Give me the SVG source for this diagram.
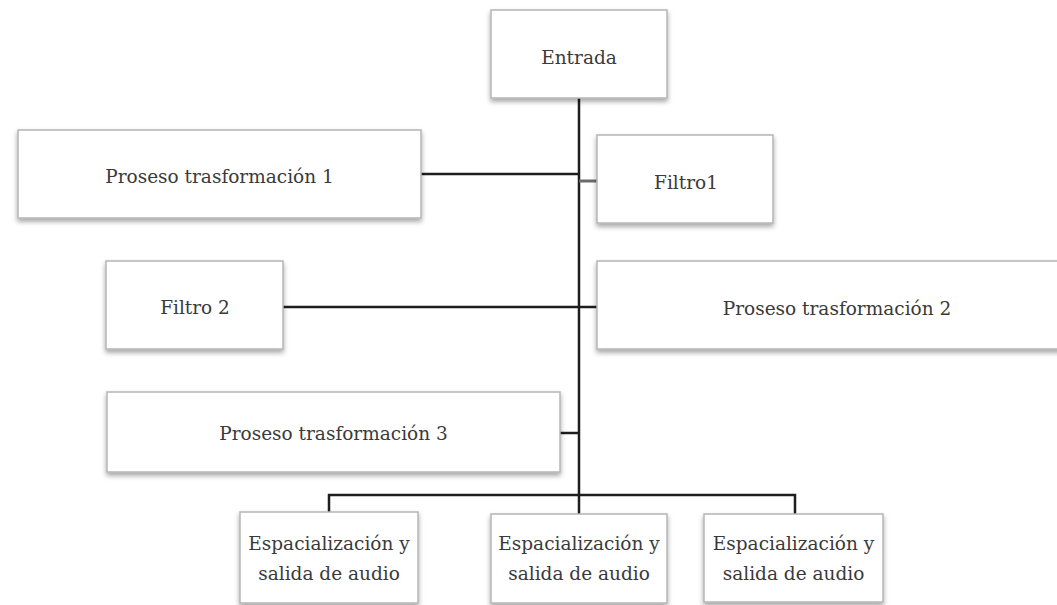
<svg xmlns="http://www.w3.org/2000/svg" width="1057" height="605" viewBox="0 0 1057 605">
  <defs>
    <filter id="sh" x="-10%" y="-20%" width="120%" height="150%">
      <feDropShadow dx="0" dy="3" stdDeviation="2.5" flood-color="#000" flood-opacity="0.35"/>
    </filter>
  </defs>
  <style>
    .box { fill: #ffffff; stroke: #b5b5b5; stroke-width: 1.5; filter: url(#sh); }
    .lbl { font-family: "DejaVu Serif", "Liberation Serif", serif; font-size: 18.5px; fill: #3a3a3a; text-anchor: middle; dominant-baseline: central; }
    .ln { stroke: #1e1e1e; stroke-width: 2.5; fill: none; }
    .lg { stroke: #6a6a6a; stroke-width: 3; fill: none; }
  </style>
  <rect width="1057" height="605" fill="#ffffff"/>

  <g id="connectors">
    <line class="ln" x1="579" y1="98" x2="579" y2="514"/>
    <line class="ln" x1="421" y1="174" x2="579" y2="174"/>
    <line class="lg" x1="579" y1="181" x2="597" y2="181"/>
    <line class="ln" x1="283" y1="307" x2="597" y2="307"/>
    <line class="ln" x1="560" y1="433" x2="579" y2="433"/>
    <polyline class="ln" points="329,512 329,495 795,495 795,514"/>
  </g>

  <g id="entrada">
    <rect class="box" x="491" y="10" width="176" height="88"/>
    <text class="lbl" x="579" y="57">Entrada</text>
  </g>
  <g id="proseso1">
    <rect class="box" x="18" y="130" width="403" height="88"/>
    <text class="lbl" x="219.5" y="176">Proseso trasformación 1</text>
  </g>
  <g id="filtro1">
    <rect class="box" x="597" y="135" width="176" height="88"/>
    <text class="lbl" x="686" y="182">Filtro1</text>
  </g>
  <g id="filtro2">
    <rect class="box" x="106" y="261" width="177" height="88"/>
    <text class="lbl" x="195" y="307">Filtro 2</text>
  </g>
  <g id="proseso2">
    <rect class="box" x="597" y="261" width="480" height="88"/>
    <text class="lbl" x="837" y="308">Proseso trasformación 2</text>
  </g>
  <g id="proseso3">
    <rect class="box" x="107" y="392" width="453" height="80"/>
    <text class="lbl" x="333.5" y="433">Proseso trasformación 3</text>
  </g>
  <g id="salida1">
    <rect class="box" x="240" y="512" width="178" height="91"/>
    <text class="lbl" x="329" y="543">Espacialización y</text>
    <text class="lbl" x="329" y="573">salida de audio</text>
  </g>
  <g id="salida2">
    <rect class="box" x="491" y="514" width="176" height="89"/>
    <text class="lbl" x="579" y="543">Espacialización y</text>
    <text class="lbl" x="579" y="573">salida de audio</text>
  </g>
  <g id="salida3">
    <rect class="box" x="704" y="514" width="179" height="88"/>
    <text class="lbl" x="793.5" y="543">Espacialización y</text>
    <text class="lbl" x="793.5" y="573">salida de audio</text>
  </g>
</svg>
